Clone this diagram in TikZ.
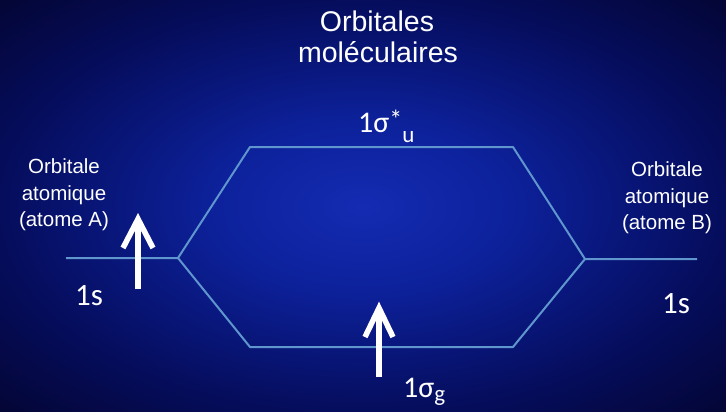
\documentclass[tikz,border=0pt]{standalone}
\usepackage{fontspec}
\setmainfont{Liberation Sans}
\newfontfamily\calfont{Carlito}
\definecolor{lvlcol}{RGB}{95,150,205}
\pgfdeclareradialshading{bgshade}{\pgfpoint{0bp}{0bp}}{%
rgb(0bp)=(0.08,0.17,0.70);
rgb(10bp)=(0.05,0.13,0.61);
rgb(25bp)=(0.02,0.05,0.36);
rgb(36bp)=(0.016,0.02,0.20);
rgb(50bp)=(0.016,0.02,0.20)}
\tikzset{
  lvl/.style={draw=lvlcol, line width=2pt, line join=round},
  electron/.style={draw=white, line width=5.5pt, line join=miter},
  titletxt/.style={text=white, inner sep=0pt, anchor=base, font=\fontsize{28.5}{30}\selectfont},
  aotxt/.style={text=white, inner sep=0pt, anchor=base, font=\fontsize{20.5}{24}\selectfont},
  stxt/.style={text=white, inner sep=0pt, anchor=base, font=\calfont\fontsize{31}{32}\selectfont},
  motxt/.style={text=white, inner sep=0pt, anchor=base west, font=\calfont\fontsize{30}{31}\selectfont}
}
\begin{document}
\begin{tikzpicture}[x=1pt,y=-1pt]
\useasboundingbox (0,0) rectangle (726,412);
\shade[shading=bgshade] (0,0) rectangle (726,412);

% titles
\node[titletxt] (t1) at (377,32) {Orbitales};
\node[titletxt] (t2) at (378,63) {moléculaires};

% atomic orbital labels
\node[aotxt] (la1) at (64,173) {Orbitale};
\node[aotxt] (la2) at (64,200) {atomique};
\node[aotxt] (la3) at (64,226) {(atome A)};
\node[aotxt] (lb1) at (667,176) {Orbitale};
\node[aotxt] (lb2) at (667,203) {atomique};
\node[aotxt] (lb3) at (667,229) {(atome B)};

% levels
\coordinate (a1) at (66,258);
\coordinate (a2) at (178,258);
\coordinate (u1) at (250,147);
\coordinate (u2) at (513,147);
\coordinate (g1) at (250,347);
\coordinate (g2) at (513,347);
\coordinate (b1) at (585,259);
\coordinate (b2) at (697,259);
\draw[lvl] (a1) -- (a2) -- (u1) -- (u2) -- (b1) -- (b2);
\draw[lvl] (a2) -- (g1) -- (g2) -- (b1);

% level labels
\node[stxt] (s1) at (89,305) {1s};
\node[stxt] (s2) at (676,313) {1s};
\node[motxt] (su) at (358,132) {1σ\raisebox{4pt}{\fontsize{26}{26}\selectfont *}\raisebox{-10pt}{\fontsize{23}{23}\selectfont u}};
\node[motxt] (sg) at (403,397) {1σ\raisebox{-4pt}{\fontsize{23}{23}\selectfont g}};

% electrons
\coordinate (ea0) at (138,289);
\coordinate (ea1) at (138,219);
\coordinate (eal) at (123,248);
\coordinate (ear) at (153,248);
\draw[electron] (ea0) -- (ea1);
\draw[electron] (eal) -- (ea1) -- (ear);
\coordinate (eg0) at (379,377);
\coordinate (eg1) at (379,308);
\coordinate (egl) at (365,337);
\coordinate (egr) at (393,337);
\draw[electron] (eg0) -- (eg1);
\draw[electron] (egl) -- (eg1) -- (egr);
\end{tikzpicture}
\end{document}
